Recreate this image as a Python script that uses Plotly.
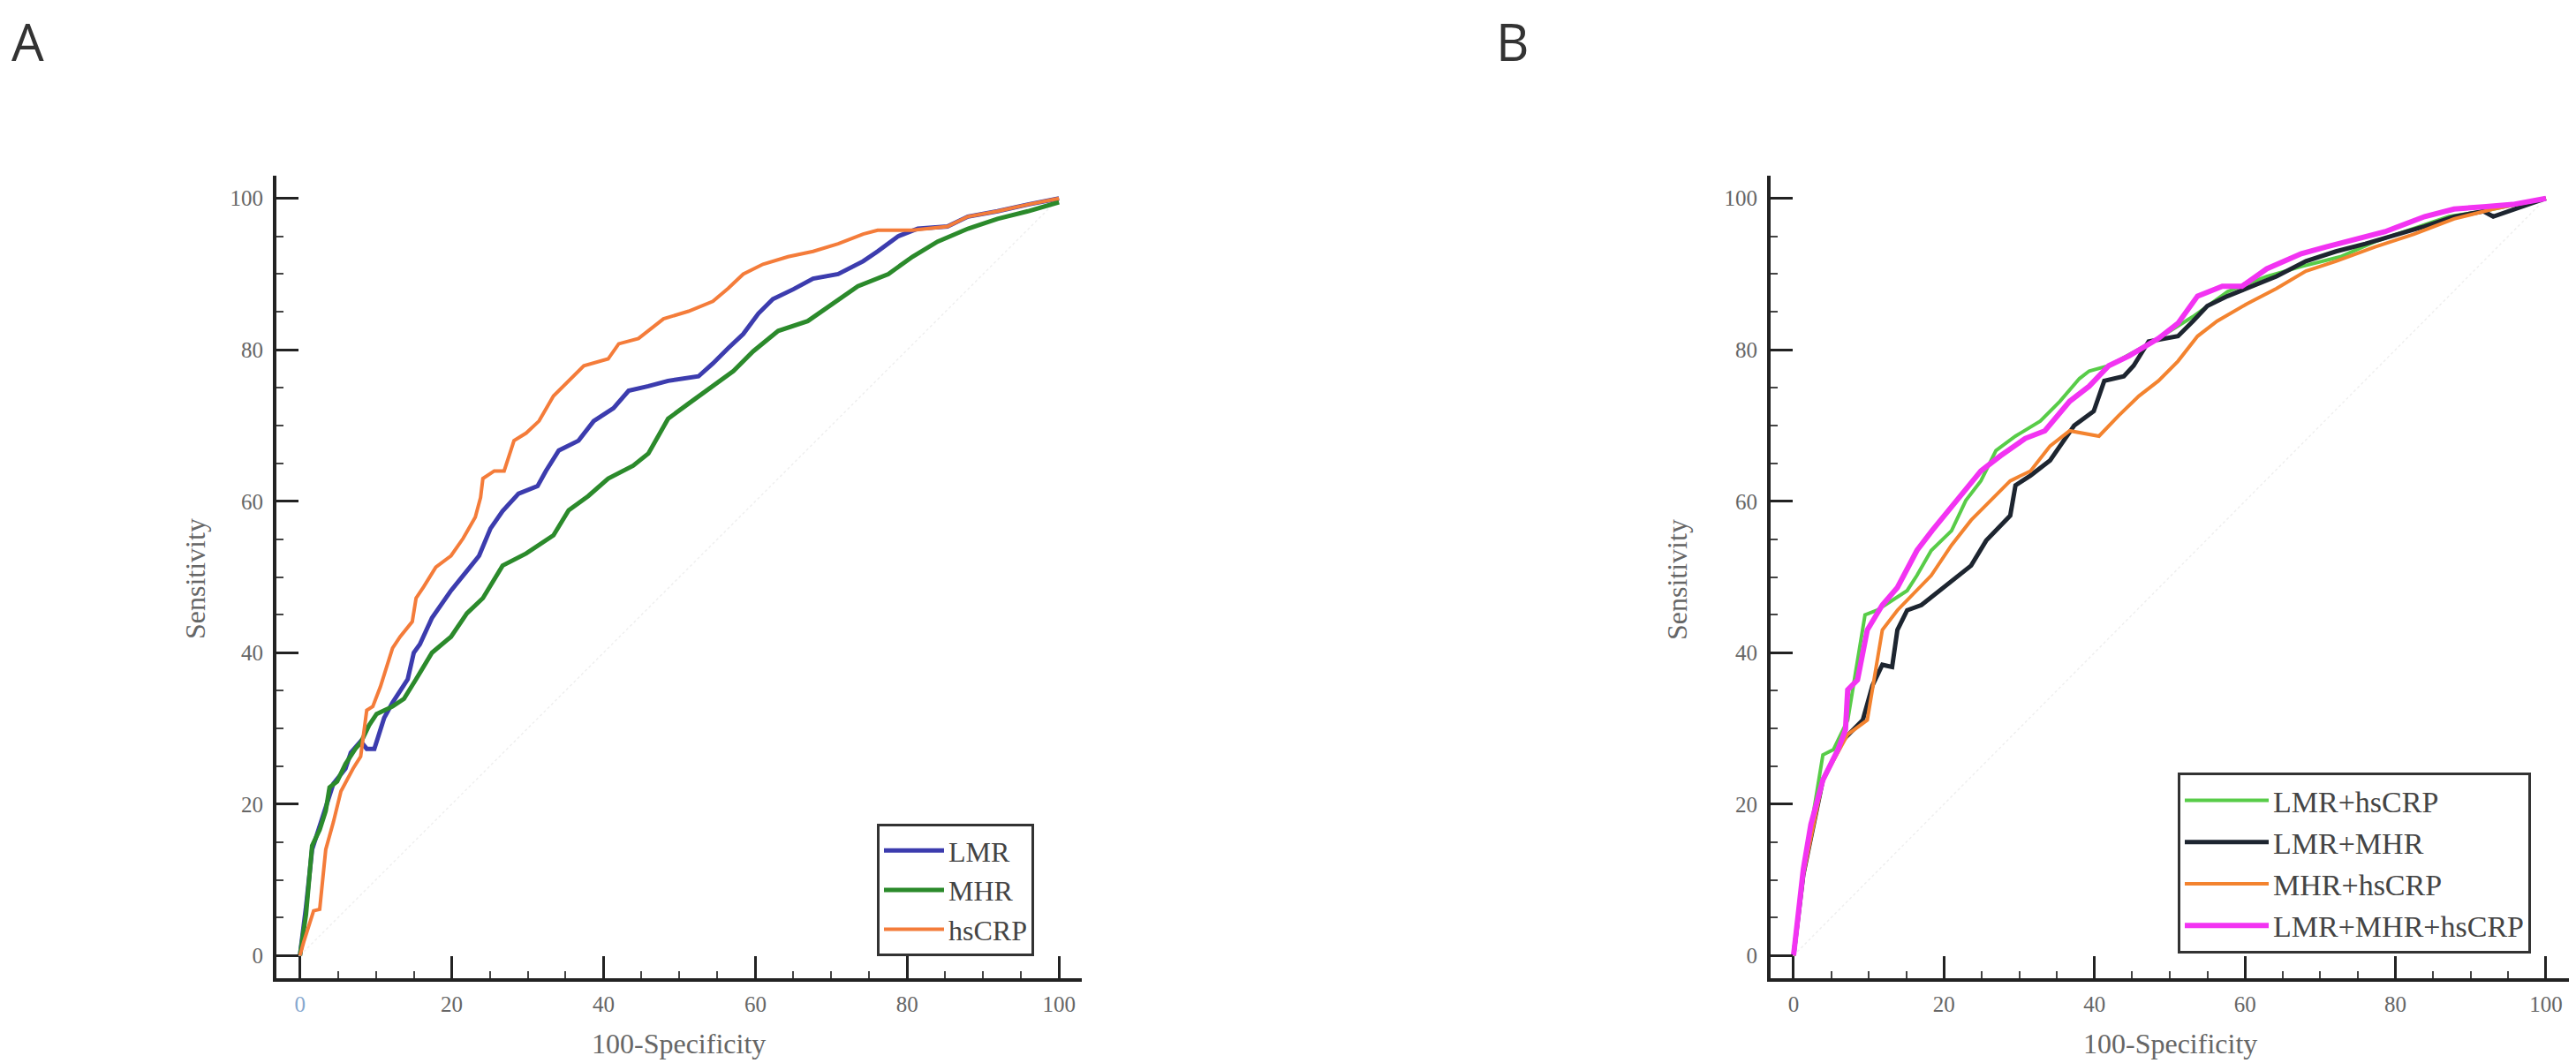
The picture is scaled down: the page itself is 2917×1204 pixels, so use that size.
import plotly.graph_objects as go

# ---- Panel A: single markers ----
lmr_x = [0, 0.8, 1.6, 2.8, 3.6, 4.4, 6.0, 6.7, 8.0, 8.8, 9.8, 10.6, 11.1, 12.2, 14.2, 15.0, 15.8, 17.4,
         19.9, 22.0, 23.6, 25.1, 26.7, 28.8, 31.3, 32.4, 34.1, 36.7, 38.7, 41.3, 43.3, 45.9, 48.5, 52.5,
         54.4, 56.4, 58.4, 60.4, 62.3, 65.0, 67.6, 70.9, 74.2, 76.1, 78.8, 81.4, 85.3, 88.0, 91.9, 95.9, 100]
lmr_y = [0, 6.4, 14.0, 17.6, 20.2, 22.7, 24.7, 26.8, 28.3, 27.3, 27.3, 29.8, 31.4, 33.4, 36.5, 40.0, 41.1, 44.6,
         48.2, 50.8, 52.8, 56.4, 58.7, 61.0, 62.0, 64.0, 66.7, 68.0, 70.6, 72.3, 74.6, 75.2, 75.9, 76.5,
         78.2, 80.2, 82.1, 84.8, 86.7, 88.0, 89.4, 90.0, 91.7, 93.0, 95.0, 96.0, 96.3, 97.6, 98.3, 99.2, 100]

mhr_x = [0, 0.8, 1.6, 2.6, 3.4, 3.9, 4.9, 6.0, 7.3, 8.0, 9.1, 10.1, 12.2, 13.7, 15.3, 17.4, 19.9, 22.0,
         24.1, 26.7, 29.8, 33.4, 35.4, 38.0, 40.6, 43.9, 45.9, 48.5, 51.2, 54.4, 57.1, 59.7, 63.0, 66.9,
         70.2, 73.5, 77.5, 80.7, 84.0, 88.0, 91.9, 95.9, 100]
mhr_y = [0, 5.4, 14.5, 16.6, 19.1, 22.2, 23.0, 25.3, 27.3, 28.1, 30.4, 31.9, 32.9, 33.9, 36.5, 40.0, 42.1, 45.2,
         47.2, 51.5, 53.1, 55.5, 58.8, 60.7, 63.0, 64.7, 66.3, 70.9, 72.9, 75.2, 77.2, 79.8, 82.5, 83.8,
         86.1, 88.4, 90.0, 92.3, 94.3, 96.0, 97.3, 98.3, 99.5]

hscrp_x = [0, 0.5, 1.8, 2.6, 3.4, 4.4, 5.4, 7.0, 8.0, 8.8, 9.6, 10.6, 12.2, 13.2, 14.8, 15.3, 16.3, 17.9,
           19.9, 21.5, 23.1, 23.8, 24.1, 25.6, 26.9, 28.2, 29.8, 31.5, 33.4, 35.4, 37.4, 40.6, 42.0, 44.6,
           47.9, 51.2, 54.4, 56.4, 58.4, 61.0, 64.3, 67.6, 70.9, 74.2, 76.1, 80.7, 85.3, 88.0, 91.9, 95.9, 100]
hscrp_y = [0, 1.8, 5.9, 6.1, 14.0, 17.6, 21.7, 24.7, 26.3, 32.4, 32.9, 35.5, 40.6, 42.1, 44.1, 47.2, 48.7, 51.3,
           52.8, 55.1, 57.9, 60.5, 63.0, 64.0, 64.0, 68.0, 69.0, 70.6, 73.9, 75.9, 77.9, 78.8, 80.8, 81.5,
           84.1, 85.1, 86.4, 88.1, 90.0, 91.3, 92.3, 93.0, 94.0, 95.3, 95.8, 95.8, 96.3, 97.6, 98.3, 99.2, 100]

# ---- Panel B: combined markers ----
lmr_hscrp_x = [0, 1.3, 3.9, 5.3, 7.2, 9.2, 9.5, 11.1, 13.1, 15.1, 16.4, 18.3, 21.0, 22.9, 24.9, 26.9, 29.5,
               32.8, 35.4, 38.0, 39.3, 41.9, 47.8, 53.1, 57.7, 62.9, 67.5, 72.7, 77.3, 82.5, 87.1, 91.7, 93.0, 100]
lmr_hscrp_y = [0, 10.7, 26.5, 27.2, 31.1, 43.0, 45.0, 45.6, 46.9, 48.2, 50.2, 53.5, 56.1, 60.1, 62.7, 66.7, 68.6,
               70.6, 73.2, 76.2, 77.2, 77.9, 81.1, 84.4, 87.7, 89.7, 91.0, 92.3, 94.3, 96.0, 97.6, 98.3, 98.6, 100]

lmr_mhr_x = [0, 1.3, 3.9, 6.6, 9.2, 10.5, 11.8, 13.1, 13.8, 15.1, 17.0, 19.0, 21.0, 23.6, 25.6, 26.9, 28.8,
             29.5, 31.5, 34.1, 36.0, 37.3, 39.9, 41.3, 43.9, 45.2, 47.2, 51.1, 53.1, 55.0, 57.7, 60.3, 64.2,
             68.1, 72.1, 76.0, 80.6, 83.9, 87.8, 91.7, 93.0, 100]
lmr_mhr_y = [0, 10.7, 23.2, 28.5, 31.1, 35.7, 38.4, 38.1, 43.0, 45.6, 46.3, 47.9, 49.6, 51.5, 54.8, 56.1, 58.1,
             62.1, 63.4, 65.4, 68.0, 70.0, 71.9, 75.9, 76.5, 77.9, 81.1, 81.8, 83.8, 85.8, 87.1, 88.1, 89.7,
             91.7, 93.0, 94.0, 95.3, 96.3, 97.6, 98.3, 97.6, 100]

mhr_hscrp_x = [0, 1.3, 3.9, 7.2, 9.8, 11.8, 13.8, 15.7, 18.3, 21.0, 23.6, 26.2, 28.8, 31.5, 34.1, 36.7, 40.6,
               43.2, 45.9, 48.5, 51.1, 53.7, 56.3, 60.3, 64.2, 68.1, 72.1, 77.3, 82.5, 87.8, 93.0, 100]
mhr_hscrp_y = [0, 10.7, 23.2, 29.2, 31.1, 43.0, 45.6, 47.6, 50.2, 54.2, 57.5, 60.1, 62.7, 64.0, 67.3, 69.3, 68.6,
               71.3, 73.9, 75.9, 78.5, 81.8, 83.8, 86.1, 88.1, 90.4, 91.7, 93.6, 95.3, 97.3, 98.6, 100]

all3_x = [0, 1.3, 2.3, 3.9, 5.9, 6.9, 7.2, 8.5, 9.8, 11.8, 13.8, 16.4, 18.4, 21.6, 24.9, 27.5, 30.8, 33.4,
          36.7, 39.3, 41.9, 44.6, 48.5, 51.1, 53.7, 57.0, 59.6, 62.9, 67.5, 70.8, 74.7, 78.6, 83.9, 87.8,
          91.7, 95.6, 100]
all3_y = [0, 11.4, 17.3, 23.2, 27.2, 29.8, 35.1, 36.4, 43.0, 46.3, 48.6, 53.5, 56.1, 60.1, 64.0, 66.0, 68.3, 69.3,
          73.2, 75.2, 77.9, 79.2, 81.5, 83.5, 87.1, 88.4, 88.4, 90.7, 92.7, 93.6, 94.6, 95.6, 97.6, 98.6,
          98.9, 99.2, 100]

diag = [0, 100]
tick_vals = [0, 20, 40, 60, 80, 100]

panel_a = [('LMR', lmr_x, lmr_y, '#3c3cae', 5),
           ('MHR', mhr_x, mhr_y, '#2b8a2b', 5),
           ('hsCRP', hscrp_x, hscrp_y, '#f47c3a', 4)]
panel_b = [('LMR+hsCRP', lmr_hscrp_x, lmr_hscrp_y, '#58cc48', 4),
           ('LMR+MHR', lmr_mhr_x, lmr_mhr_y, '#1d2530', 5),
           ('MHR+hsCRP', mhr_hscrp_x, mhr_hscrp_y, '#f3832f', 4),
           ('LMR+MHR+hsCRP', all3_x, all3_y, '#f233f2', 6)]

W, H = 2917, 1204
serif = 'Liberation Serif'

fig = go.Figure()

# very faint reference diagonals
for xa, ya in [('x', 'y'), ('x2', 'y2')]:
    fig.add_trace(go.Scatter(x=diag, y=diag, mode='lines', xaxis=xa, yaxis=ya, showlegend=False,
                             line=dict(color='#efefef', width=1.5, dash='dot'), hoverinfo='skip'))

for name, xs, ys, col, w in panel_a:
    fig.add_trace(go.Scatter(x=xs, y=ys, mode='lines', name=name, xaxis='x', yaxis='y',
                             line=dict(color=col, width=w), legend='legend'))

for name, xs, ys, col, w in panel_b:
    fig.add_trace(go.Scatter(x=xs, y=ys, mode='lines', name=name, xaxis='x2', yaxis='y2',
                             line=dict(color=col, width=w), legend='legend2'))


def axis_style(domain, rng, anchor, ticktext, standoff):
    return dict(
        domain=domain, range=rng, anchor=anchor,
        showline=True, linecolor='#222', linewidth=4,
        showgrid=False, zeroline=False,
        ticks='inside', ticklen=25, tickwidth=3, tickcolor='#222',
        tickvals=tick_vals, ticktext=ticktext,
        tickfont=dict(family=serif, size=25, color='#666'),
        ticklabelstandoff=standoff,
        minor=dict(dtick=5, tick0=0, ticks='inside', ticklen=8, tickwidth=2, tickcolor='#444'),
    )


plain = [str(v) for v in tick_vals]
blue0 = ['<span style="color:#86a8cf">0</span>'] + plain[1:]

ydom = [1 - 1100 / H, 1 - 191 / H]
fig.update_layout(
    width=W, height=H,
    margin=dict(l=0, r=0, t=0, b=0),
    plot_bgcolor='white', paper_bgcolor='white',
    xaxis=axis_style([305 / W, 1217 / W], [-3.1, 103.0], 'y', blue0, 4),
    yaxis=axis_style(ydom, [-3.0, 103.0], 'x', plain, 6),
    xaxis2=axis_style([1997 / W, 2903 / W], [-3.05, 103.3], 'y2', plain, 4),
    yaxis2=axis_style(ydom, [-3.0, 103.0], 'x2', plain, 6),
    legend=dict(x=985 / W, y=1 - 925 / H, xanchor='left', yanchor='top',
                bgcolor='white', bordercolor='#333', borderwidth=3, itemwidth=68,
                font=dict(family=serif, size=32, color='#444'), tracegroupgap=0),
    legend2=dict(x=2458 / W, y=1 - 867 / H, xanchor='left', yanchor='top',
                 bgcolor='white', bordercolor='#333', borderwidth=3, itemwidth=95,
                 font=dict(family=serif, size=34, color='#444'), tracegroupgap=0),
)

# panel letters and axis titles as free text
notes = [
    ('A', 23, 38, 0, dict(family='Open Sans', size=58, color='#333')),
    ('B', 1704, 38, 0, dict(family='Open Sans', size=58, color='#333')),
    ('100-Specificity', 761, 1174, 0, dict(family=serif, size=32, color='#666')),
    ('100-Specificity', 2449, 1174, 0, dict(family=serif, size=32, color='#666')),
    ('Sensitivity', 213, 648, -90, dict(family=serif, size=32, color='#666')),
    ('Sensitivity', 1891, 648, -90, dict(family=serif, size=32, color='#666')),
]
for text, px_x, px_y, ang, font in notes:
    fig.add_annotation(text=text, x=px_x / W, y=1 - px_y / H, xref='paper', yref='paper',
                       xanchor='center', yanchor='middle', showarrow=False, textangle=ang, font=font)

fig.write_html("out.html")
